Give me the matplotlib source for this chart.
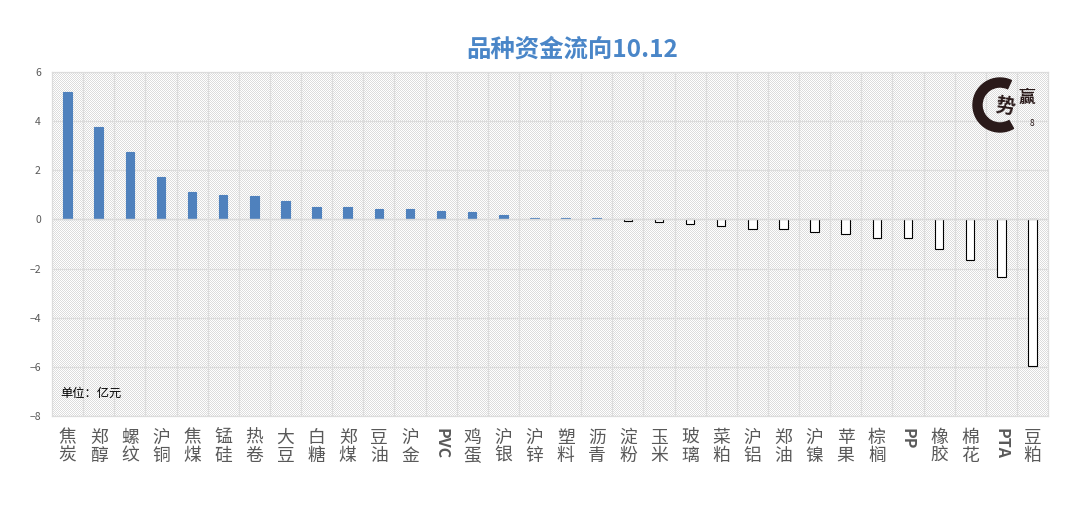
import matplotlib
matplotlib.use("Agg")
import matplotlib.pyplot as plt
import numpy as np
from matplotlib.patches import Wedge

plt.rcParams["font.family"] = ["Noto Sans CJK SC", "DejaVu Sans"]

categories = ["焦\n炭", "郑\n醇", "螺\n纹", "沪\n铜", "焦\n煤", "锰\n硅", "热\n卷", "大\n豆",
              "白\n糖", "郑\n煤", "豆\n油", "沪\n金", "PVC", "鸡\n蛋", "沪\n银", "沪\n锌",
              "塑\n料", "沥\n青", "淀\n粉", "玉\n米", "玻\n璃", "菜\n粕", "沪\n铝", "郑\n油",
              "沪\n镍", "苹\n果", "棕\n榈", "PP", "橡\n胶", "棉\n花", "PTA", "豆\n粕"]
flows = [5.18, 3.75, 2.75, 1.72, 1.10, 1.00, 0.95, 0.75,
         0.50, 0.50, 0.42, 0.42, 0.35, 0.30, 0.18, 0.05,
         0.05, 0.05, -0.05, -0.10, -0.18, -0.25, -0.38, -0.40,
         -0.50, -0.60, -0.75, -0.75, -1.20, -1.65, -2.35, -5.95]
y_ticks = [-8, -6, -4, -2, 0, 2, 4, 6]

W, H = 1078, 505
fig = plt.figure(figsize=(W / 100, H / 100), dpi=100)
ax = fig.add_axes([52 / W, 1 - 416 / H, 996 / W, 344 / H])

# fine pixel checker behind the plot
yy, xx = np.mgrid[0:344, 0:996]
checker = np.where((xx + yy) % 2 == 0, 0.86, 1.0)
ax.imshow(checker, cmap="gray", vmin=0, vmax=1, extent=(0, 1, 0, 1), transform=ax.transAxes,
          aspect="auto", interpolation="nearest", zorder=0)

x = np.arange(len(flows))
colors = ["#4f81bd" if v >= 0 else "white" for v in flows]
edges = ["#4f81bd" if v >= 0 else "black" for v in flows]
ax.bar(x, flows, width=0.27, color=colors, edgecolor=edges, linewidth=0.8, zorder=3)
ax.axhline(0, color="#d9d9d9", linewidth=1.0, zorder=4)

ax.set_xlim(-0.5, len(flows) - 0.5)
ax.set_ylim(-8, 6)
ax.set_yticks(y_ticks)
ax.set_xticks(x, categories)
ax.set_xticks(x[:-1] + 0.5, minor=True)
ax.grid(True, axis="y", color="#dcdcdc", linewidth=0.9, zorder=1)
ax.grid(True, axis="x", which="minor", color="#dcdcdc", linewidth=0.9, zorder=1)
ax.grid(False, axis="x", which="major")
ax.tick_params(axis="both", which="both", length=0)
ax.tick_params(axis="x", labelsize=12.8, labelcolor="#595959", pad=9)
ax.tick_params(axis="y", labelsize=7.5, labelcolor="#595959", pad=8)
for label in ax.get_xticklabels():
    label.set_linespacing(1.02)
    label.set_verticalalignment("top")
    # latin names stand on their side in the reference
    if label.get_text().isascii():
        label.set_rotation(270)
        label.set_fontsize(11.5)
        label.set_fontweight("bold")
for spine in ax.spines.values():
    spine.set_color("#dcdcdc")
    spine.set_linewidth(0.9)

fig.text(572 / W, 1 - 50 / H, "品种资金流向10.12", color="#4a86c8", fontsize=17.6,
         fontweight="bold", ha="center", va="center")
fig.text(60 / W, 1 - 393 / H, "单位：亿元", color="black", fontsize=8.8, ha="left", va="center")

# logo: brush ring with the characters over it
logo = fig.add_axes([970 / W, 1 - 136 / H, 66 / W, 62 / H])
logo.set_xlim(0, 66)
logo.set_ylim(0, 62)
logo.axis("off")
logo.patch.set_alpha(0)
logo.add_patch(Wedge((30, 31), 27, 65, 300, width=9, color="#2a1a1a"))
logo.text(35, 29, "势", fontsize=14, fontweight="bold", color="#2a1a1a", ha="center", va="center", rotation=-8)
logo.text(57, 38, "赢", fontsize=12, fontweight="bold", color="#2a1a1a", ha="center", va="center")
logo.text(62, 13, "8", fontsize=6, color="#2a1a1a", ha="center", va="center")

fig.savefig("out.png", dpi=100, facecolor="white")
